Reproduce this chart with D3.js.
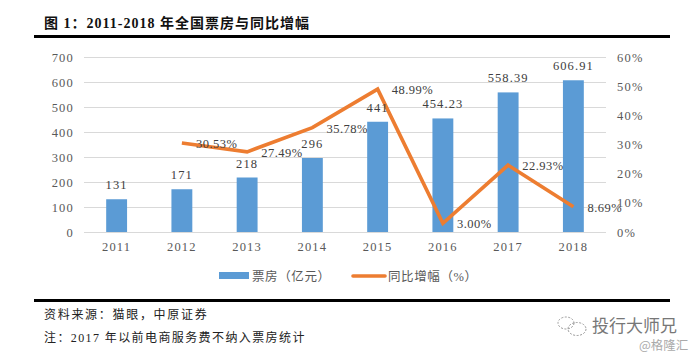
<!DOCTYPE html>
<html><head><meta charset="utf-8">
<script src="https://cdn.jsdelivr.net/npm/d3@7/dist/d3.min.js"></script>
<style>
html,body{margin:0;padding:0;background:#fff}
svg{display:block}
text{font-family:"Liberation Serif","Noto Sans CJK SC",serif}
</style></head><body>
<svg id="c" width="699" height="356"></svg>
<script>
const years=["2011","2012","2013","2014","2015","2016","2017","2018"];
const boxOffice=[131,171,218,296,441,454.23,558.39,606.91];
const boxLabels=["131","171","218","296","441","454.23","558.39","606.91"];
const growth=[null,30.53,27.49,35.78,48.99,3.00,22.93,8.69];
const growthLabels=[null,"30.53%","27.49%","35.78%","48.99%","3.00%","22.93%","8.69%"];
const leftTicks=[0,100,200,300,400,500,600,700];
const rightTicks=[0,10,20,30,40,50,60];
const titleText="图 1：2011-2018 年全国票房与同比增幅";
const sourceText="资料来源：猫眼，中原证券";
const noteText="注：2017 年以前电商服务费不纳入票房统计";
const legendBar="票房（亿元）";
const legendLine="同比增幅（%）";

const svg=d3.select("#c");
const m={l:84,r:606,t:57,b:232};
const x=d3.scaleBand().domain(years).range([m.l,m.r]).paddingInner(0.68).paddingOuter(0.34);
const xc=d=>x(d)+x.bandwidth()/2;
const yL=d3.scaleLinear().domain([0,700]).range([m.b,m.t]);
const yR=d3.scaleLinear().domain([0,60]).range([m.b,m.t]);
const grey="#595959", ink="#222";

// gridlines
svg.append("g").selectAll("line").data(leftTicks).join("line")
 .attr("x1",m.l).attr("x2",m.r).attr("y1",d=>yL(d)+.5).attr("y2",d=>yL(d)+.5)
 .attr("stroke","#d9d9d9").attr("stroke-width",1);

// bars
svg.append("g").selectAll("rect").data(boxOffice).join("rect")
 .attr("x",(d,i)=>x(years[i])).attr("width",x.bandwidth())
 .attr("y",d=>yL(d)).attr("height",d=>yL(0)-yL(d)).attr("fill","#5b9bd5");

// axes
const axText=(sel)=>sel.attr("fill",grey).attr("font-size",12.5).attr("letter-spacing","1.2px");
const gL=svg.append("g").attr("transform",`translate(${m.l},0)`).call(d3.axisLeft(yL).tickValues(leftTicks).tickSize(0).tickPadding(10));
gL.select(".domain").remove(); gL.selectAll("text").call(axText).style("font-family","Liberation Serif");
const gR=svg.append("g").attr("transform",`translate(${m.r},0)`).call(d3.axisRight(yR).tickValues(rightTicks).tickSize(0).tickPadding(11).tickFormat(d=>d+"%"));
gR.select(".domain").remove(); gR.selectAll("text").call(axText).style("font-family","Liberation Serif");
const gX=svg.append("g").attr("transform",`translate(0,${m.b})`).call(d3.axisBottom(x).tickSize(0).tickPadding(10));
gX.select(".domain").remove(); gX.selectAll("text").call(axText).style("font-family","Liberation Serif");

// line
const pts=years.map((y,i)=>({y,v:growth[i],l:growthLabels[i]})).filter(d=>d.v!=null);
svg.append("path").datum(pts)
 .attr("d",d3.line().x(d=>xc(d.y)).y(d=>yR(d.v)))
 .attr("fill","none").attr("stroke","#ed7d31").attr("stroke-width",3.6).attr("stroke-linejoin","miter");

// bar labels
const labelStyle=(s,ls)=>s.attr("fill","#404040").attr("font-size",12.5).attr("letter-spacing",ls).style("font-family","Liberation Serif");
svg.append("g").selectAll("text").data(boxLabels).join("text")
 .attr("x",(d,i)=>xc(years[i])).attr("y",(d,i)=>yL(boxOffice[i])-10)
 .attr("text-anchor","middle").text(d=>d).call(labelStyle,"1.1px");

// line labels sit to the right of each point
svg.append("g").selectAll("text").data(pts).join("text")
 .attr("x",d=>xc(d.y)+14).attr("y",d=>yR(d.v)+5)
 .text(d=>d.l).call(labelStyle,"0.5px");

// title and rules
const cjk=s=>s.style("font-family","'Liberation Serif','Noto Sans CJK SC'");
svg.append("text").attr("x",44).attr("y",28).attr("font-size",14).attr("font-weight","bold").attr("fill","#111").attr("letter-spacing","1px").text(titleText).call(cjk);
svg.append("rect").attr("x",34).attr("y",35).attr("width",636).attr("height",3).attr("fill","#000");
svg.append("rect").attr("x",34).attr("y",299).attr("width",636).attr("height",3).attr("fill","#000");

// legend
svg.append("rect").attr("x",219).attr("y",272).attr("width",30).attr("height",7).attr("fill","#5b9bd5");
svg.append("text").attr("x",252).attr("y",281).attr("font-size",12.5).attr("fill",grey).attr("letter-spacing","0.6px").text(legendBar).call(cjk);
svg.append("line").attr("x1",353).attr("x2",385).attr("y1",276).attr("y2",276).attr("stroke","#ed7d31").attr("stroke-width",3.6).attr("stroke-linecap","round");
svg.append("text").attr("x",388).attr("y",281).attr("font-size",12.5).attr("fill",grey).attr("letter-spacing","0.6px").text(legendLine).call(cjk);

// footer
svg.append("text").attr("x",44).attr("y",319).attr("font-size",12).attr("fill",ink).attr("letter-spacing","1.7px").text(sourceText).call(cjk);
svg.append("text").attr("x",44).attr("y",342).attr("font-size",12).attr("fill",ink).attr("letter-spacing","1.4px").text(noteText).call(cjk);

// watermark
const wm=svg.append("g").attr("fill","none").attr("stroke","#999").attr("stroke-width",1).attr("stroke-dasharray","2 1.5");
wm.append("ellipse").attr("cx",566).attr("cy",323).attr("rx",8).attr("ry",6);
wm.append("ellipse").attr("cx",577).attr("cy",329).attr("rx",9).attr("ry",6.5);
svg.append("text").attr("x",592).attr("y",332).attr("font-size",17).attr("fill","#777").text("投行大师兄").call(cjk);
svg.append("text").attr("x",639).attr("y",350).attr("font-size",12.5).attr("fill","#aaa").text("@格隆汇").style("font-family","'Noto Sans CJK SC'");
</script>
</body></html>
